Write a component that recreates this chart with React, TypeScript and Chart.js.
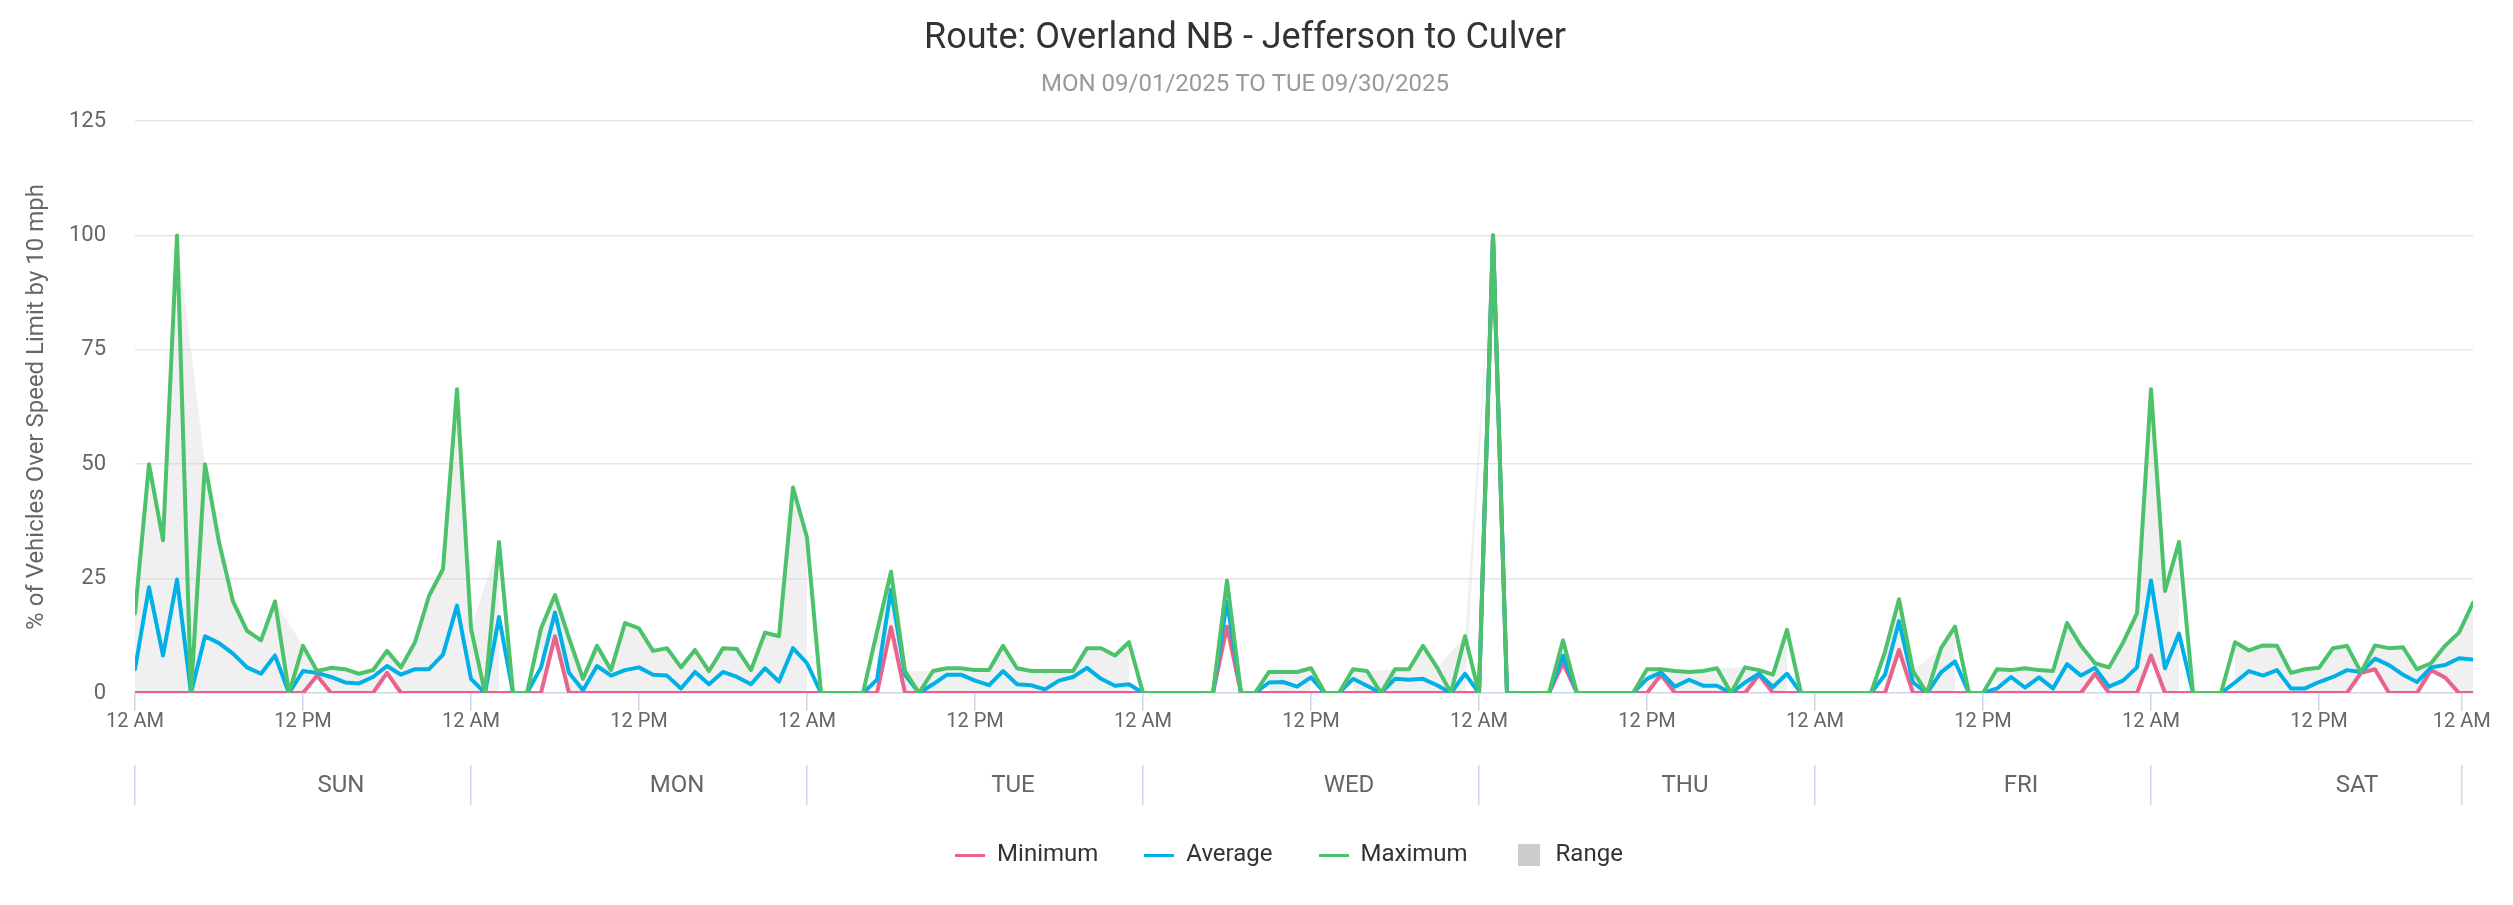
import React, { useEffect, useRef } from 'react';
import { Chart, registerables } from 'chart.js';

Chart.register(...registerables);

const FONT = 'Roboto, "Noto Sans", "DejaVu Sans", sans-serif';
Chart.defaults.font.family = FONT;

const TITLE = 'Route: Overland NB - Jefferson to Culver';
const SUBTITLE = 'MON 09/01/2025 TO TUE 09/30/2025';
const Y_TITLE = '% of Vehicles Over Speed Limit by 10 mph';

const DAYS = ['SUN', 'MON', 'TUE', 'WED', 'THU', 'FRI', 'SAT'];
const DAY_BOUNDARIES = [0, 24, 48, 72, 96, 120, 144, 166.2];
const HOUR_TICKS = [0, 12, 24, 36, 48, 60, 72, 84, 96, 108, 120, 132, 144, 156, 166.2];
const HOUR_TICK_LABELS = [
  '12 AM', '12 PM', '12 AM', '12 PM', '12 AM', '12 PM', '12 AM', '12 PM',
  '12 AM', '12 PM', '12 AM', '12 PM', '12 AM', '12 PM', '12 AM',
];
const Y_TICKS = [0, 25, 50, 75, 100, 125];

// hourly values, Sunday 12 AM .. Saturday 11 PM (24 per row = one day)
const MINIMUM = [
  0, 0, 0, 0, 0, 0, 0, 0, 0, 0, 0, 0, 0, 3.8, 0, 0, 0, 0, 4.4, 0, 0, 0, 0, 0,
  0, 0, 0, 0, 0, 0, 12.4, 0, 0, 0, 0, 0, 0, 0, 0, 0, 0, 0, 0, 0, 0, 0, 0, 0,
  0, 0, 0, 0, 0, 0, 14.4, 0, 0, 0, 0, 0, 0, 0, 0, 0, 0, 0, 0, 0, 0, 0, 0, 0,
  0, 0, 0, 0, 0, 0, 14.5, 0, 0, 0, 0, 0, 0, 0, 0, 0, 0, 0, 0, 0, 0, 0, 0, 0,
  0, 100, 0, 0, 0, 0, 6.5, 0, 0, 0, 0, 0, 0, 4, 0, 0, 0, 0, 0, 0, 4, 0, 0, 0,
  0, 0, 0, 0, 0, 0, 9.4, 0, 0, 0, 0, 0, 0, 0, 0, 0, 0, 0, 0, 0, 4.2, 0, 0, 0,
  8.2, 0, 0, 0, 0, 0, 0, 0, 0, 0, 0, 0, 0, 0, 0, 4.4, 5.2, 0, 0, 0, 5, 3.4, 0, 0,
];

const AVERAGE = [
  5.2, 23.1, 8.2, 24.8, 0, 12.4, 10.9, 8.6, 5.6, 4.2, 8.2, 0, 4.8, 4.4, 3.5, 2.3, 2.1, 3.5, 5.9, 4, 5.2, 5.2, 8.4, 19.1,
  3.1, 0, 16.6, 0, 0, 5.6, 17.6, 4.4, 0.6, 5.9, 3.8, 5, 5.6, 4, 3.8, 1, 4.6, 1.9, 4.6, 3.5, 1.9, 5.4, 2.5, 9.8,
  6.5, 0, 0, 0, 0, 2.9, 22.6, 4, 0, 1.9, 4, 4, 2.7, 1.7, 4.8, 1.9, 1.7, 0.8, 2.7, 3.5, 5.5, 3.1, 1.6, 1.9,
  0, 0, 0, 0, 0, 0, 20, 0, 0, 2.3, 2.4, 1.4, 3.4, 0, 0, 3.1, 1.6, 0, 3.1, 2.9, 3.1, 1.7, 0, 4.2,
  0, 100, 0, 0, 0, 0, 8.2, 0, 0, 0, 0, 0, 3.1, 4.5, 1.4, 2.9, 1.6, 1.6, 0, 2.3, 4.2, 1.3, 4.2, 0,
  0, 0, 0, 0, 0, 4, 15.7, 2.3, 0, 4.5, 6.9, 0, 0, 1, 3.5, 1.2, 3.4, 1, 6.3, 3.8, 5.5, 1.4, 2.7, 5.6,
  24.6, 5.4, 13, 0, 0, 0, 2.3, 4.8, 3.8, 5, 1, 1, 2.4, 3.5, 5, 4.6, 7.5, 6.1, 4, 2.4, 5.6, 6.1, 7.6, 7.3,
];

const MAXIMUM = [
  17.4, 50, 33.4, 100, 0, 50, 33, 20, 13.6, 11.5, 20, 0, 10.3, 4.8, 5.5, 5.2, 4.2, 5, 9.2, 5.6, 11.1, 21.2, 27.1, 66.4,
  14.1, 0, 33, 0, 0, 14.1, 21.4, 12, 3.1, 10.3, 5, 15.3, 14.1, 9.2, 9.8, 5.6, 9.4, 4.8, 9.8, 9.6, 5, 13.2, 12.4, 44.9,
  34, 0, 0, 0, 0, 13.4, 26.5, 4.8, 0, 4.8, 5.4, 5.4, 5, 5, 10.3, 5.4, 4.8, 4.8, 4.8, 4.8, 9.8, 9.8, 8.2, 11.1,
  0, 0, 0, 0, 0, 0, 24.6, 0, 0, 4.6, 4.6, 4.6, 5.4, 0, 0, 5.2, 4.8, 0, 5.2, 5.2, 10.3, 5.6, 0, 12.4,
  0, 100, 0, 0, 0, 0, 11.5, 0, 0, 0, 0, 0, 5.2, 5.2, 4.8, 4.6, 4.8, 5.4, 0, 5.6, 5, 4, 13.8, 0,
  0, 0, 0, 0, 0, 9, 20.5, 4.8, 0, 9.8, 14.5, 0, 0, 5.2, 5, 5.4, 5, 4.8, 15.3, 10.3, 6.5, 5.6, 11, 17.4,
  66.4, 22.3, 33, 0, 0, 0, 11.1, 9.3, 10.4, 10.3, 4.4, 5.2, 5.5, 9.8, 10.3, 4.5, 10.4, 9.8, 10, 5.2, 6.5, 10.3, 13.2, 19.7,
];

const C_MIN = '#e9648c';
const C_AVG = '#00b0e6';
const C_MAX = '#4cc26b';
const C_RANGE = '#cccccc';
const C_RANGE_FILL = 'rgba(204,204,204,0.3)';

function icon(w: number, h: number, color: string) {
  const c = document.createElement('canvas');
  c.width = w;
  c.height = h;
  const g = c.getContext('2d')!;
  g.fillStyle = color;
  g.fillRect(0, 0, w, h);
  return c;
}

export default function App() {
  const ref = useRef<HTMLCanvasElement>(null);

  useEffect(() => {
    const canvas = ref.current!;
    const toXY = (arr: number[]) => arr.map((y, x) => ({ x, y }));
    // Range area: hours with a non-zero maximum; gaps longer than one hour break the area
    const rangeHours = MAXIMUM.map((v, i) => (v > 0 ? i : -1)).filter((i) => i >= 0);
    const rangeHigh = rangeHours.map((i) => ({ x: i, y: MAXIMUM[i] }));
    const rangeLow = rangeHours.map((i) => ({ x: i, y: MINIMUM[i] }));

    const lineDs = (label: string, data: number[], color: string, order: number) => ({
      label,
      data: toXY(data),
      borderColor: color,
      backgroundColor: color,
      borderWidth: 4,
      pointRadius: 0,
      pointHoverRadius: 0,
      tension: 0,
      fill: false,
      borderJoinStyle: 'round' as const,
      borderCapStyle: 'round' as const,
      order,
    });

    const legendItems = [
      { text: '', pointStyle: icon(30, 2, 'rgba(0,0,0,0)') },
      { text: 'Minimum', pointStyle: icon(30, 3, C_MIN) },
      { text: 'Average', pointStyle: icon(30, 3, C_AVG) },
      { text: 'Maximum', pointStyle: icon(30, 3, C_MAX) },
      { text: 'Range', pointStyle: icon(22, 22, C_RANGE) },
    ];

    const chart = new Chart(canvas, {
      type: 'line',
      data: {
        datasets: [
          lineDs('Maximum', MAXIMUM, C_MAX, 0),
          lineDs('Average', AVERAGE, C_AVG, 1),
          lineDs('Minimum', MINIMUM, C_MIN, 2),
          {
            label: 'Range',
            data: rangeHigh,
            borderColor: 'rgba(0,0,0,0)',
            borderWidth: 0,
            backgroundColor: C_RANGE_FILL,
            pointRadius: 0,
            pointHoverRadius: 0,
            fill: '+1',
            spanGaps: 2,
            order: 3,
          } as any,
          {
            label: 'RangeLow',
            data: rangeLow,
            borderColor: 'rgba(0,0,0,0)',
            borderWidth: 0,
            pointRadius: 0,
            pointHoverRadius: 0,
            fill: false,
            spanGaps: 2,
            order: 4,
          } as any,
        ],
      },
      options: {
        responsive: false,
        animation: false,
        events: [],
        layout: { padding: { left: 0, right: 23, top: 0, bottom: 28 } },
        plugins: {
          title: {
            display: true,
            text: TITLE,
            color: '#333333',
            font: { family: FONT, size: 36, weight: 'normal' },
            padding: { top: 17, bottom: 8 },
          },
          subtitle: {
            display: true,
            text: SUBTITLE,
            color: '#999999',
            font: { family: FONT, size: 24, weight: 'normal' },
            padding: { top: 2, bottom: 22 },
          },
          legend: {
            display: true,
            position: 'bottom',
            onClick: () => {},
            labels: {
              usePointStyle: true,
              pointStyleWidth: 30,
              padding: 46,
              color: '#333333',
              font: { family: FONT, size: 24 },
              generateLabels: () =>
                legendItems.map((it) => ({
                  text: it.text,
                  pointStyle: it.pointStyle as any,
                  fillStyle: 'rgba(0,0,0,0)',
                  strokeStyle: 'rgba(0,0,0,0)',
                  lineWidth: 0,
                  hidden: false,
                  fontColor: '#333333',
                })),
            },
          },
          tooltip: { enabled: false },
        },
        scales: {
          x: {
            type: 'linear',
            position: 'bottom',
            min: 0,
            max: 167,
            weight: 0,
            afterBuildTicks: (s: any) => {
              s.ticks = HOUR_TICKS.map((v) => ({ value: v }));
            },
            afterFit: (s: any) => {
              s.height = 72;
            },
            ticks: {
              autoSkip: false,
              maxRotation: 0,
              minRotation: 0,
              padding: -1,
              color: '#666666',
              font: { family: FONT, size: 20 },
              callback: (_v: any, i: number) => HOUR_TICK_LABELS[i],
            },
            grid: {
              display: true,
              drawOnChartArea: false,
              drawTicks: true,
              tickLength: 18,
              tickColor: '#ccd6eb',
              lineWidth: 1.5,
            },
            border: { display: true, color: '#ccd6eb', width: 1.5 },
          },
          x2: {
            type: 'linear',
            position: 'bottom',
            min: 0,
            max: 167,
            weight: 1,
            afterBuildTicks: (s: any) => {
              s.ticks = DAY_BOUNDARIES.map((v) => ({ value: v }));
            },
            afterFit: (s: any) => {
              s.height = 32;
            },
            ticks: {
              autoSkip: false,
              maxRotation: 0,
              minRotation: 0,
              labelOffset: 206,
              padding: -33.4,
              color: '#666666',
              font: { family: FONT, size: 24 },
              callback: (_v: any, i: number) => DAYS[i] ?? '',
            },
            grid: {
              display: true,
              drawOnChartArea: false,
              drawTicks: true,
              tickLength: 40,
              tickColor: '#ccd6eb',
              lineWidth: 1.5,
            },
            border: { display: false },
          },
          y: {
            type: 'linear',
            position: 'left',
            min: 0,
            max: 125,
            afterBuildTicks: (s: any) => {
              s.ticks = Y_TICKS.map((v) => ({ value: v }));
            },
            afterFit: (s: any) => {
              s.width = 135;
            },
            ticks: {
              padding: 29,
              color: '#666666',
              font: { family: FONT, size: 22 },
            },
            grid: {
              drawTicks: false,
              lineWidth: 1.5,
              color: (ctx: any) => (ctx.tick && ctx.tick.value === 0 ? 'rgba(0,0,0,0)' : '#e6e6e6'),
            },
            border: { display: false },
            title: {
              display: true,
              text: Y_TITLE,
              color: '#666666',
              font: { family: FONT, size: 24 },
              padding: { top: 23, bottom: 0 },
            },
          },
          y2: {
            type: 'linear',
            position: 'right',
            min: 0,
            max: 125,
            display: true,
            grid: { display: false },
            ticks: { display: false },
            border: { display: false },
            afterFit: (s: any) => {
              s.width = 17;
            },
          },
        },
      } as any,
    });
    return () => chart.destroy();
  }, []);

  return (
    <div style={{ position: 'fixed', left: 0, top: 0, width: 2513, height: 905, background: '#ffffff' }}>
      <canvas ref={ref} width={2513} height={905} style={{ display: 'block', width: 2513, height: 905 }} />
    </div>
  );
}
